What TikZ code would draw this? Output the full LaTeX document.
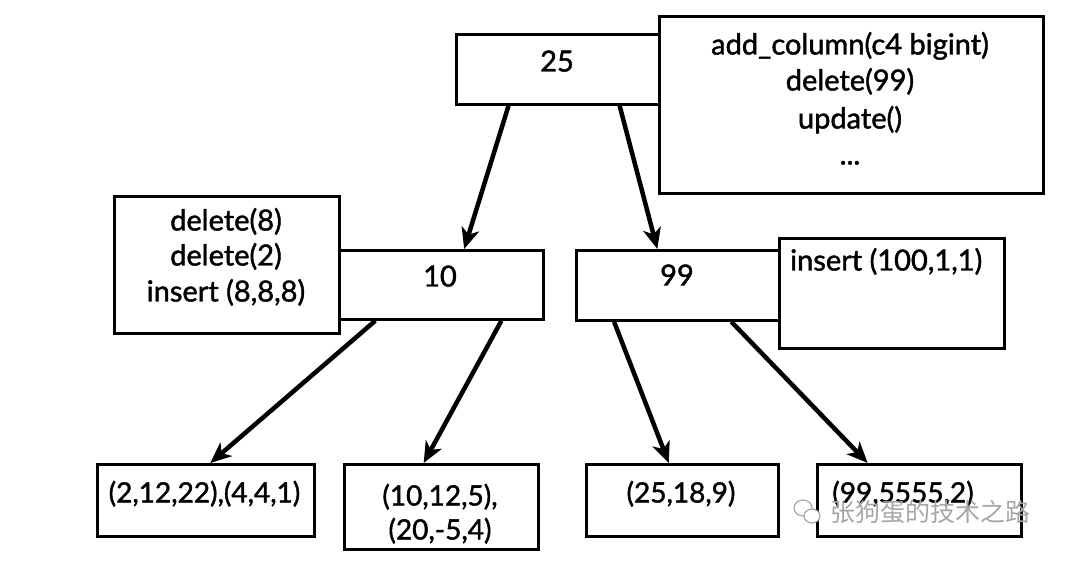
\documentclass[tikz,border=0pt]{standalone}
\usepackage{fontspec}
\setmainfont{Lato}[FakeBold=1.5]
\newfontfamily\cjk{Noto Sans CJK SC}
\usetikzlibrary{arrows.meta,calc}
\begin{document}
\begin{tikzpicture}[x=1pt,y=-1pt,
  box/.style={draw,line width=2.8pt,fill=white,inner sep=0pt,anchor=north west},
  arr/.style={line width=4.5pt,-{Stealth[length=21pt,width=18pt,inset=6pt]}},
  big/.style={font=\fontsize{29}{36}\selectfont,inner sep=0pt,text height=0.72em,text depth=0.22em},
  small/.style={font=\fontsize{28}{33}\selectfont,inner sep=0pt,text height=0.72em,text depth=0.22em},
  wm/.style={text=black!35,font=\cjk\fontsize{25}{30}\selectfont,inner sep=0pt}]
\useasboundingbox[fill=white] (0,0) rectangle (1080,561);
% root and its note
\node[box,minimum width=203pt,minimum height=70pt] (n25) at (455,33) {};
\node[box,minimum width=384pt,minimum height=177pt] (r) at (658,15) {};
\node[big] (t25) at (557,69) {25};
\node[big] (r1) at (850,52) {add\_column(c4 bigint)};
\node[big] (r2) at (850,88) {delete(99)};
\node[big] (r3) at (850,126) {update()};
\node[big] (r4) at (850,162) {...};
% level two
\node[box,minimum width=225pt,minimum height=137pt] (l) at (113,195) {};
\node[box,minimum width=204pt,minimum height=69pt] (n10) at (338,249) {};
\node[big] (l1) at (226,228) {delete(8)};
\node[big] (l2) at (226,263) {delete(2)};
\node[big] (l3) at (226,299) {insert (8,8,8)};
\node[big] (t10) at (440,284) {10};
\node[box,minimum width=203pt,minimum height=70pt] (n99) at (575,249) {};
\node[box,minimum width=225pt,minimum height=110pt] (rr) at (778,237) {};
\node[big] (t99) at (677,283) {99};
\node[big,anchor=west] (trr) at (790,268) {insert (100,1,1)};
% leaves
\node[box,minimum width=217pt,minimum height=72pt] (a) at (96,463) {};
\node[box,minimum width=194pt,minimum height=85pt] (b) at (343,463) {};
\node[box,minimum width=192pt,minimum height=72pt] (c) at (585,463) {};
\node[box,minimum width=204pt,minimum height=72pt] (d) at (816,463) {};
\node[small] (ta) at (204.5,500) {(2,12,22),(4,4,1)};
\node[small] (tb1) at (440,503) {(10,12,5),};
\node[small] (tb2) at (440,537) {(20,-5,4)};
\node[small] (tc) at (681,500) {(25,18,9)};
\node[small] (td) at (903,500) {(99,5555,2)};
% arrows
\draw[arr] ($(n25.south west)!0.26!(n25.south east)$) -- ($(n10.north west)!0.61!(n10.north east)$);
\draw[arr] ($(n25.south west)!0.80!(n25.south east)$) -- ($(n99.north west)!0.40!(n99.north east)$);
\draw[arr] ($(n10.south west)!0.18!(n10.south east)$) -- ($(a.north west)!0.52!(a.north east)$);
\draw[arr] ($(n10.south west)!0.79!(n10.south east)$) -- ($(b.north west)!0.41!(b.north east)$);
\draw[arr] ($(n99.south west)!0.19!(n99.south east)$) -- ($(c.north west)!0.43!(c.north east)$);
\draw[arr] ($(n99.south west)!0.76!(n99.south east)$) -- ($(d.north west)!0.25!(d.north east)$);
% watermark
\node[wm,anchor=west] (w) at (830,512) {张狗蛋的技术之路};
\draw[black!35,line width=1.2pt] (803,508) circle[x radius=9pt,y radius=8pt];
\draw[black!35,line width=1.2pt,fill=white] (812,516) circle[x radius=8pt,y radius=7pt];
\end{tikzpicture}
\end{document}
